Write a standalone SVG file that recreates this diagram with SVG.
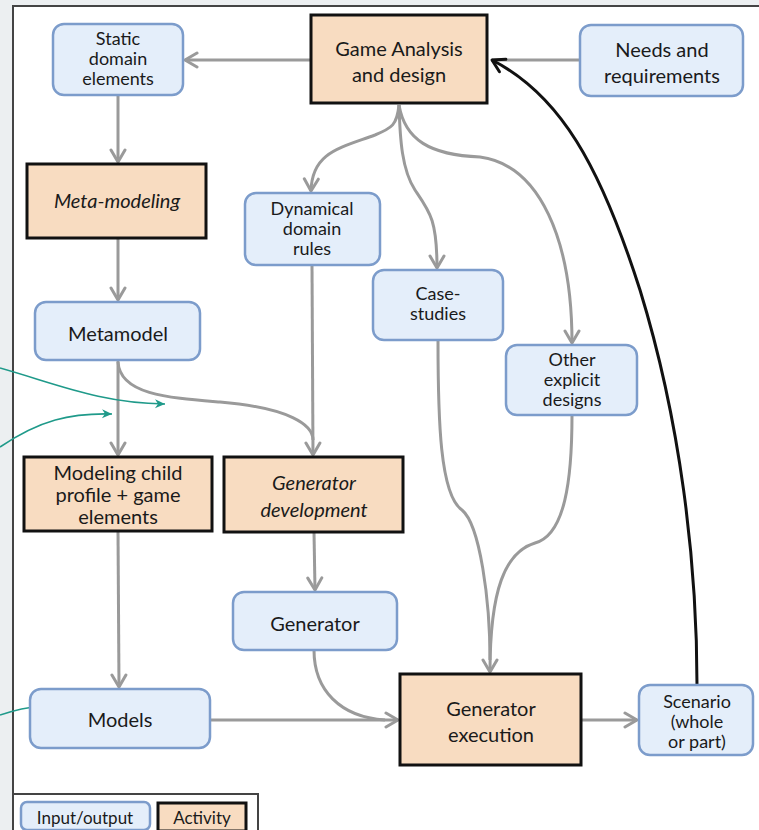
<svg xmlns="http://www.w3.org/2000/svg" width="759" height="830" viewBox="0 0 759 830">
  <defs>
    <marker id="arrGray" markerUnits="userSpaceOnUse" markerWidth="16" markerHeight="18" viewBox="0 0 16 18" refX="14" refY="9" orient="auto">
      <path d="M2,2 L14,9 L2,16" fill="none" stroke="#9a9a9a" stroke-width="3" stroke-linejoin="round" stroke-linecap="round"/>
    </marker>
    <marker id="arrBlack" markerUnits="userSpaceOnUse" markerWidth="16" markerHeight="18" viewBox="0 0 16 18" refX="14" refY="9" orient="auto">
      <path d="M2,2 L14,9 L2,16" fill="none" stroke="#111" stroke-width="3" stroke-linejoin="round" stroke-linecap="round"/>
    </marker>
    <marker id="arrTeal" markerUnits="userSpaceOnUse" markerWidth="12" markerHeight="12" viewBox="0 0 12 12" refX="11" refY="6" orient="auto">
      <path d="M1,1.5 L11,6 L1,10.5 L4,6 Z" fill="#1f9a8a"/>
    </marker>
  </defs>
  <style>
    .io rect { fill: #e4eefa; stroke: #7c9ccb; stroke-width: 2.5; }
    .act rect { fill: #f8dcc1; stroke: #111; stroke-width: 3; }
    text { font-family: Lato, "Open Sans", "Liberation Sans", sans-serif; font-size: 20px; fill: #1a1a1a; text-anchor: middle; }
    .sm { font-size: 18px; }
    .it { font-style: italic; }
    .edge { fill: none; stroke: #9a9a9a; stroke-width: 3; }
    .back { fill: none; stroke: #111; stroke-width: 3; }
    .note { fill: none; stroke: #1f9a8a; stroke-width: 1.6; }
    .legend text { font-size: 17px; }
  </style>

  <!-- page background and frame -->
  <rect x="0" y="0" width="759" height="830" fill="#eceff1"/>
  <rect x="13" y="6" width="760" height="830" fill="#ffffff" stroke="#444" stroke-width="2"/>

  <!-- connectors -->
  <g id="connectors">
    <path class="edge" d="M311,60 L185,60" marker-end="url(#arrGray)"/>
    <path class="edge" d="M580,60 L492,60"/>
    <path class="back" d="M697,685 C697,560 680,420 640,290 C600,165 560,95 492,60" marker-end="url(#arrBlack)"/>
    <path class="edge" d="M118,95 L118,162" marker-end="url(#arrGray)"/>
    <path class="edge" d="M118,238 L118,300" marker-end="url(#arrGray)"/>
    <path class="edge" d="M118,360 L118,455" marker-end="url(#arrGray)"/>
    <path class="edge" d="M399,105 C397,125 392,128 375,135 C340,148 312,152 311,191" marker-end="url(#arrGray)"/>
    <path class="edge" d="M399,105 C400,140 402,170 415,190 C430,212 437,220 437,268" marker-end="url(#arrGray)"/>
    <path class="edge" d="M399,105 C405,140 430,155 480,157 C540,165 572,240 572,343" marker-end="url(#arrGray)"/>
    <path class="edge" d="M118,362 C120,395 170,398 220,402 C290,408 313,425 313,440"/>
    <path class="edge" d="M312,265 L313,455" marker-end="url(#arrGray)"/>
    <path class="edge" d="M438,340 C438,420 440,495 462,510 C480,525 490,600 490,660"/>
    <path class="edge" d="M572,415 C572,480 565,535 535,543 C505,552 490,590 490,672" marker-end="url(#arrGray)"/>
    <path class="edge" d="M118,531 L119,687" marker-end="url(#arrGray)"/>
    <path class="edge" d="M314,532 L315,590" marker-end="url(#arrGray)"/>
    <path class="edge" d="M314,650 C314,690 340,717 385,720"/>
    <path class="edge" d="M210,720 L398,720" marker-end="url(#arrGray)"/>
    <path class="edge" d="M581,720 L637,720" marker-end="url(#arrGray)"/>
    <!-- side annotations -->
    <path class="note" d="M0,368 C60,385 100,403 165,404" marker-end="url(#arrTeal)"/>
    <path class="note" d="M0,447 C40,420 70,413 112,414" marker-end="url(#arrTeal)"/>
    <path class="note" d="M0,715 C15,710 30,707 42,706" marker-end="url(#arrTeal)"/>
  </g>

  <!-- nodes -->
  <g id="static-domain" class="io">
    <rect x="53" y="24" width="130" height="71" rx="11"/>
    <text class="sm" x="118" y="45">Static</text>
    <text class="sm" x="118" y="65">domain</text>
    <text class="sm" x="118" y="85">elements</text>
  </g>
  <g id="game-analysis" class="act">
    <rect x="311" y="15" width="176" height="88"/>
    <text x="399" y="56">Game Analysis</text>
    <text x="399" y="82">and design</text>
  </g>
  <g id="needs" class="io">
    <rect x="580" y="25" width="163" height="71" rx="11"/>
    <text x="662" y="57">Needs and</text>
    <text x="662" y="83">requirements</text>
  </g>
  <g id="meta-modeling" class="act">
    <rect x="27" y="164" width="179" height="74"/>
    <text class="it" x="117" y="208">Meta-modeling</text>
  </g>
  <g id="dynamical-rules" class="io">
    <rect x="245" y="193" width="135" height="72" rx="11"/>
    <text class="sm" x="312" y="215">Dynamical</text>
    <text class="sm" x="312" y="235">domain</text>
    <text class="sm" x="312" y="255">rules</text>
  </g>
  <g id="case-studies" class="io">
    <rect x="373" y="270" width="130" height="70" rx="11"/>
    <text class="sm" x="438" y="300">Case-</text>
    <text class="sm" x="438" y="320">studies</text>
  </g>
  <g id="other-designs" class="io">
    <rect x="506" y="345" width="131" height="70" rx="11"/>
    <text class="sm" x="572" y="366">Other</text>
    <text class="sm" x="572" y="386">explicit</text>
    <text class="sm" x="572" y="406">designs</text>
  </g>
  <g id="metamodel" class="io">
    <rect x="35" y="302" width="165" height="58" rx="11"/>
    <text x="118" y="341">Metamodel</text>
  </g>
  <g id="modeling-child" class="act">
    <rect x="24" y="457" width="188" height="74"/>
    <text x="118" y="480">Modeling child</text>
    <text x="118" y="502">profile + game</text>
    <text x="118" y="524">elements</text>
  </g>
  <g id="generator-development" class="act">
    <rect x="224" y="457" width="179" height="75"/>
    <text class="it" x="314" y="490">Generator</text>
    <text class="it" x="314" y="517">development</text>
  </g>
  <g id="generator" class="io">
    <rect x="233" y="592" width="164" height="58" rx="11"/>
    <text x="315" y="631">Generator</text>
  </g>
  <g id="models" class="io">
    <rect x="30" y="689" width="180" height="59" rx="11"/>
    <text x="120" y="727">Models</text>
  </g>
  <g id="generator-execution" class="act">
    <rect x="400" y="674" width="181" height="91"/>
    <text x="491" y="716">Generator</text>
    <text x="491" y="742">execution</text>
  </g>
  <g id="scenario" class="io">
    <rect x="639" y="685" width="114" height="70" rx="11"/>
    <text class="sm" x="697" y="708">Scenario</text>
    <text class="sm" x="697" y="728">(whole</text>
    <text class="sm" x="697" y="748">or part)</text>
  </g>

  <!-- legend -->
  <g id="legend" class="legend">
    <rect x="13" y="794" width="245" height="40" fill="#ffffff" stroke="#444" stroke-width="2"/>
    <g class="io">
      <rect x="21" y="802" width="129" height="28" rx="6" stroke-width="2"/>
    </g>
    <text x="85" y="824">Input/output</text>
    <g class="act">
      <rect x="158" y="803" width="88" height="28" stroke-width="2"/>
    </g>
    <text x="202" y="824">Activity</text>
  </g>
</svg>
